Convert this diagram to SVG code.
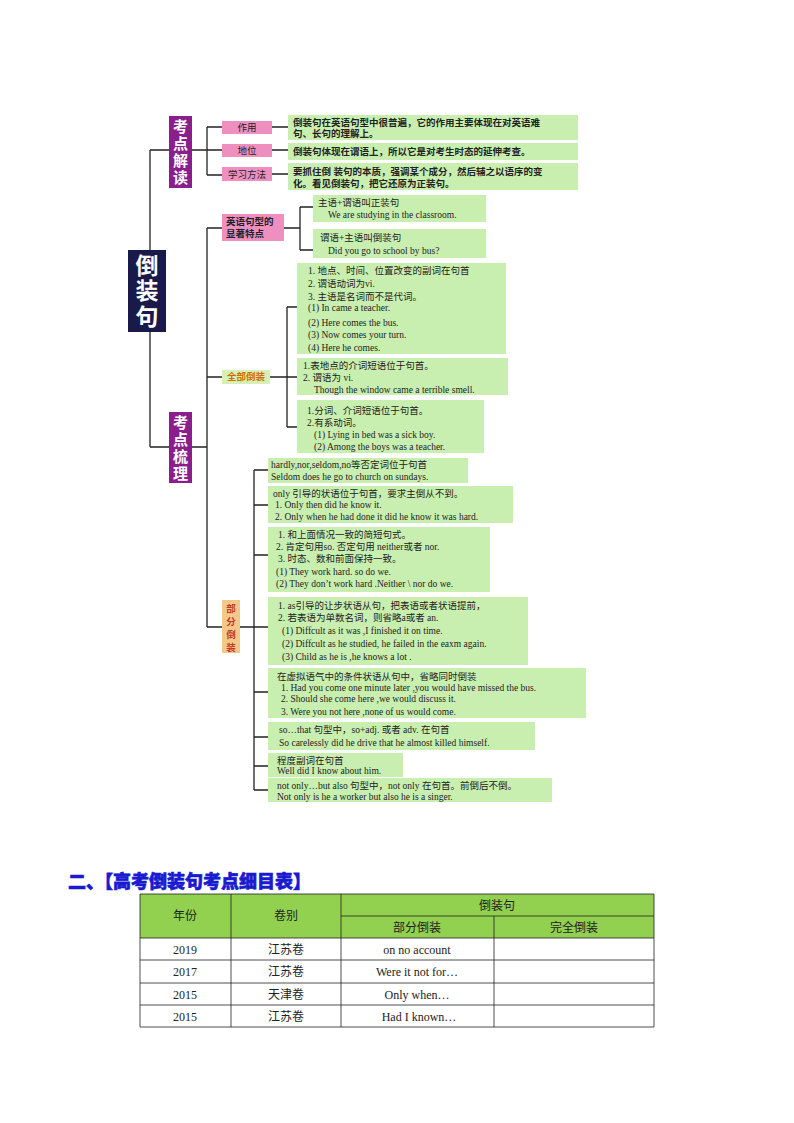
<svg xmlns="http://www.w3.org/2000/svg" width="794" height="1123" viewBox="0 0 794 1123">
<style>
.g{fill:#c9efb0}
.p{fill:#ee8fbf}
.pu{fill:#8a1f8c}
.t{font-family:"Liberation Serif","Noto Sans CJK SC",serif;font-size:9.5px;fill:#222}
.tb{font-family:"Liberation Serif","Noto Sans CJK SC",serif;font-size:9.5px;fill:#222;font-weight:bold}
.w{font-family:"Noto Sans CJK SC",sans-serif;font-size:15px;fill:#fff;font-weight:bold}
.ln{stroke:#222;stroke-width:1.3;fill:none}
.tab{font-family:"Liberation Serif","Noto Sans CJK SC",serif;font-size:12px;fill:#222}
.cell{fill:none;stroke:#222;stroke-width:0.8}
</style>
<rect x="0" y="0" width="794" height="1123" fill="#fff"/>
<g id="connectors">
<path class="ln" d="M150 150 V447 M150 150 H169 M150 447 H169 M192 150 H207 M207 127 V175 M207 127 H222 M207 150 H222 M207 175 H222 M272 127 H288 M272 150 H288 M272 174 H288"/>
<path class="ln" d="M192 447 H207 M207 228 V627 M207 228 H222 M207 377 H222 M207 627 H222 M284 228 H300 M300 207 V250 M300 207 H313 M300 250 H313"/>
<path class="ln" d="M270 377 H287 M287 307 V427 M287 307 H297 M287 377 H297 M287 427 H297"/>
<path class="ln" d="M240 627 H254 M254 470 V790 M254 470 H268 M254 505 H268 M254 555 H268 M254 627 H268 M254 692 H268 M254 737 H268 M254 766 H268 M254 790 H268"/>
</g>
<g id="root"><rect x="128" y="250" width="38" height="82" fill="#1a1a4a"/><text x="147" y="274" class="w" text-anchor="middle" font-size="23" style="font-size:23px">倒</text><text x="147" y="299" class="w" text-anchor="middle" style="font-size:23px">装</text><text x="147" y="325" class="w" text-anchor="middle" style="font-size:23px">句</text></g>
<g id="kdjd"><rect class="pu" x="169" y="116" width="23" height="72"/><text class="w" x="180.5" y="132" text-anchor="middle">考</text><text class="w" x="180.5" y="149" text-anchor="middle">点</text><text class="w" x="180.5" y="166" text-anchor="middle">解</text><text class="w" x="180.5" y="183" text-anchor="middle">读</text></g>
<g id="kdsl"><rect class="pu" x="169" y="412" width="23" height="71"/><text class="w" x="180.5" y="428" text-anchor="middle">考</text><text class="w" x="180.5" y="445" text-anchor="middle">点</text><text class="w" x="180.5" y="462" text-anchor="middle">梳</text><text class="w" x="180.5" y="479" text-anchor="middle">理</text></g>
<g id="zy"><rect class="p" x="222" y="121" width="50" height="13"/><text class="t" x="247" y="131" text-anchor="middle">作用</text></g>
<g id="dw"><rect class="p" x="222" y="144" width="50" height="13"/><text class="t" x="247" y="154" text-anchor="middle">地位</text></g>
<g id="xxff"><rect class="p" x="222" y="167" width="50" height="14"/><text class="t" x="247" y="178" text-anchor="middle">学习方法</text></g>
<g id="zy-t"><rect class="g" x="288" y="115" width="290" height="25"/><text class="tb" x="293" y="126">倒装句在英语句型中很普遍，它的作用主要体现在对英语难</text><text class="tb" x="293" y="137">句、长句的理解上。</text></g>
<g id="dw-t"><rect class="g" x="288" y="143" width="290" height="17"/><text class="tb" x="293" y="155">倒装句体现在谓语上，所以它是对考生时态的延伸考查。</text></g>
<g id="xx-t"><rect class="g" x="288" y="163" width="290" height="27"/><text class="tb" x="293" y="175">要抓住倒 装句的本质，强调某个成分，然后辅之以语序的变</text><text class="tb" x="293" y="187">化。看见倒装句，把它还原为正装句。</text></g>
<g id="yytd"><rect class="p" x="222" y="214" width="62" height="27"/><text class="tb" x="226" y="225">英语句型的</text><text class="tb" x="226" y="237">显著特点</text></g>
<g id="z1"><rect class="g" x="313" y="195" width="173" height="27"/><text class="t" x="318" y="206">主语+谓语叫正装句</text><text class="t" x="328" y="218">We are studying in the classroom.</text></g>
<g id="z2"><rect class="g" x="313" y="229" width="173" height="29"/><text class="t" x="320" y="241">谓语+主语叫倒装句</text><text class="t" x="328" y="254">Did you go to school by bus?</text></g>
<g id="qbdz"><rect fill="#d6f0b6" x="222" y="370" width="48" height="14"/><text class="tb" x="246" y="380" text-anchor="middle" style="fill:#d36b00">全部倒装</text></g>
<g id="q1"><rect class="g" x="297" y="263" width="209" height="91"/><text class="t" x="308" y="274">1. 地点、时间、位置改变的副词在句首</text><text class="t" x="308" y="287">2. 谓语动词为vi.</text><text class="t" x="308" y="300">3. 主语是名词而不是代词。</text><text class="t" x="308" y="311">(1) In came a teacher.</text><text class="t" x="308" y="326">(2) Here comes the bus.</text><text class="t" x="308" y="338">(3) Now comes your turn.</text><text class="t" x="308" y="351">(4) Here he comes.</text></g>
<g id="q2"><rect class="g" x="297" y="358" width="211" height="37"/><text class="t" x="303" y="369">1.表地点的介词短语位于句首。</text><text class="t" x="303" y="381">2. 谓语为 vi.</text><text class="t" x="314" y="393">Though the window came a terrible smell.</text></g>
<g id="q3"><rect class="g" x="297" y="400" width="187" height="53"/><text class="t" x="307" y="414">1.分词、介词短语位于句首。</text><text class="t" x="307" y="426">2.有系动词。</text><text class="t" x="314" y="438">(1) Lying in bed was a sick boy.</text><text class="t" x="314" y="450">(2) Among the boys was a teacher.</text></g>
<g id="bfdz"><rect fill="#f3c98a" x="222" y="600" width="18" height="53"/><text class="tb" x="231" y="612" text-anchor="middle" style="fill:#c0392b">部</text><text class="tb" x="231" y="625" text-anchor="middle" style="fill:#c0392b">分</text><text class="tb" x="231" y="638" text-anchor="middle" style="fill:#c0392b">倒</text><text class="tb" x="231" y="651" text-anchor="middle" style="fill:#c0392b">装</text></g>
<g id="b1"><rect class="g" x="268" y="458" width="200" height="25"/><text class="t" x="271" y="468">hardly,nor,seldom,no等否定词位于句首</text><text class="t" x="271" y="480">Seldom does he go to church on sundays.</text></g>
<g id="b2"><rect class="g" x="268" y="486" width="245" height="37"/><text class="t" x="273" y="497">only 引导的状语位于句首，要求主倒从不到。</text><text class="t" x="275" y="508">1. Only then did he know it.</text><text class="t" x="275" y="520">2. Only when he had done it did he know it was hard.</text></g>
<g id="b3"><rect class="g" x="268" y="527" width="222" height="65"/><text class="t" x="278" y="538">1. 和上面情况一致的简短句式。</text><text class="t" x="276" y="550">2. 肯定句用so. 否定句用 neither或者 nor.</text><text class="t" x="278" y="562">3. 时态、数和前面保持一致。</text><text class="t" x="276" y="575">(1) They work hard. so do we.</text><text class="t" x="276" y="587">(2) They don’t work hard .Neither \ nor do we.</text></g>
<g id="b4"><rect class="g" x="268" y="597" width="260" height="68"/><text class="t" x="278" y="609">1. as引导的让步状语从句，把表语或者状语提前，</text><text class="t" x="278" y="621">2. 若表语为单数名词，则省略a或者 an.</text><text class="t" x="282" y="634">(1) Diffcult as it was ,I finished it on time.</text><text class="t" x="282" y="647">(2) Diffcult as he studied, he failed in the eaxm again.</text><text class="t" x="282" y="660">(3) Child as he is ,he knows a lot .</text></g>
<g id="b5"><rect class="g" x="268" y="668" width="318" height="50"/><text class="t" x="277" y="680">在虚拟语气中的条件状语从句中，省略同时倒装</text><text class="t" x="281" y="691">1.  Had you come one minute later ,you would have missed the bus.</text><text class="t" x="281" y="702">2.  Should she come here ,we would discuss it.</text><text class="t" x="281" y="715">3.  Were you not here ,none of  us would come.</text></g>
<g id="b6"><rect class="g" x="268" y="722" width="267" height="28"/><text class="t" x="279" y="733">so…that 句型中，so+adj. 或者 adv. 在句首</text><text class="t" x="279" y="746">So carelessly did he drive that he almost killed himself.</text></g>
<g id="b7"><rect class="g" x="268" y="753" width="135" height="24"/><text class="t" x="277" y="764">程度副词在句首</text><text class="t" x="277" y="774">Well did I know about him.</text></g>
<g id="b8"><rect class="g" x="268" y="778" width="284" height="24"/><text class="t" x="277" y="789">not only…but also 句型中，not only 在句首。前倒后不倒。</text><text class="t" x="277" y="800">Not only is  he  a worker but also he is a singer.</text></g>
<g id="title"><text x="68" y="888" font-family="Noto Sans CJK SC,sans-serif" font-size="18" font-weight="900" fill="#1a1ad0" stroke="#1a1ad0" stroke-width="0.6">二、【高考倒装句考点细目表】</text></g>
<g id="table">
<rect x="140" y="894" width="514" height="44" fill="#92d050"/>
<path class="cell" d="M140 894 H654 V1027 H140 Z M341 916 H654 M140 938 H654 M140 960 H654 M140 983 H654 M140 1005 H654 M231 894 V1027 M341 894 V1027 M494 916 V1027"/>
<g class="tab" text-anchor="middle">
<text x="185" y="920">年份</text><text x="286" y="920">卷别</text><text x="497" y="910">倒装句</text><text x="417" y="932">部分倒装</text><text x="574" y="932">完全倒装</text>
<text x="185" y="954">2019</text><text x="286" y="954">江苏卷</text><text x="417" y="954">on no account</text>
<text x="185" y="976">2017</text><text x="286" y="976">江苏卷</text><text x="417" y="976">Were it not for…</text>
<text x="185" y="999">2015</text><text x="286" y="999">天津卷</text><text x="417" y="999">Only when…</text>
<text x="185" y="1021">2015</text><text x="286" y="1021">江苏卷</text><text x="419" y="1021">Had I known…</text>
</g></g>
</svg>
